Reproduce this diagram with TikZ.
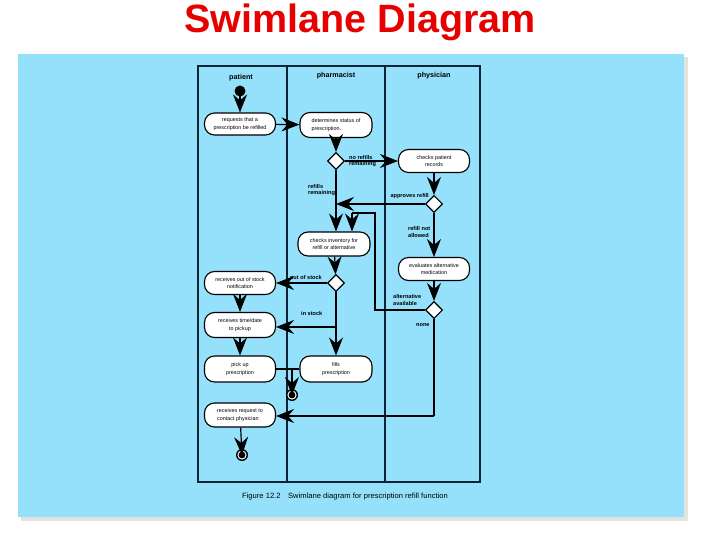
\documentclass[tikz,border=0pt]{standalone}
\usepackage{fontspec}
\setmainfont{Liberation Sans}
\usetikzlibrary{arrows.meta,shapes.geometric,positioning}
\definecolor{bgblue}{RGB}{149,225,251}
\definecolor{shadowgray}{RGB}{228,228,222}
\definecolor{framec}{RGB}{15,35,55}
\definecolor{titlered}{RGB}{230,0,0}
\tikzset{
  act/.style={draw=black, line width=1.1pt, fill=white, rounded corners=10pt,
    minimum width=71pt, minimum height=24pt, inner sep=1pt, align=center,
    font=\fontsize{5.4}{7.7}\selectfont},
  dec/.style={draw=black, line width=1.1pt, fill=white, diamond, minimum size=17pt, inner sep=0pt},
  lbl/.style={font=\bfseries\fontsize{5.6}{6.8}\selectfont, align=left, inner sep=0pt},
  hdr/.style={font=\bfseries\fontsize{7.2}{8}\selectfont, inner sep=0pt},
  flow/.style={line width=1.2pt, -{Stealth[length=18pt,width=14pt,inset=6pt]}},
  plain/.style={line width=1.2pt},
  lane/.style={draw=framec, line width=1.4pt}
}
\begin{document}
\begin{tikzpicture}[x=1pt,y=-1pt]
\useasboundingbox (0,0) rectangle (720,540);
% background
\fill[shadowgray] (21,57) rectangle (688,521);
\fill[bgblue] (18,54) rectangle (684,517);
% title
\node[font=\bfseries\fontsize{39.5}{44}\selectfont, text=titlered] (title) at (360,22) {Swimlane Diagram};
% frame and lanes
\draw[lane] (198,66) rectangle (480,482);
\draw[lane] (287,66) -- (287,482);
\draw[lane] (385,66) -- (385,482);
\node[hdr] (hp) at (241,78) {patient};
\node[hdr] (hph) at (336,76) {pharmacist};
\node[hdr] (hy) at (434,76) {physician};
% start
\fill[black] (240,91) circle (5.5pt);
\coordinate (start) at (240,91);
% activities
\node[act, minimum height=22pt] (req) at (240,124) {requests that a\\ prescription be refilled};
\node[act, minimum width=72pt, minimum height=25pt, align=left] (det) at (336,125) {determines status of\\ prescription.};
\node[dec] (d1) at (336,161) {};
\node[act, minimum height=23pt] (cpr) at (434,161) {checks patient\\ records};
\node[dec] (d2) at (434,204) {};
\node[act, minimum width=72pt] (ci) at (334,244) {checks inventory for\\ refill or alternative};
\node[act, minimum height=23pt] (eam) at (434,269) {evaluates alternative\\ medication};
\node[dec] (d4) at (336,283) {};
\node[dec] (d3) at (434,310) {};
\node[act, minimum height=23pt] (ros) at (240,283) {receives out of stock\\ notification};
\node[act, minimum height=25pt] (rtd) at (240,325) {receives time/date\\ to pickup};
\node[act, minimum height=26pt] (pup) at (240,369) {pick up\\ prescription};
\node[act, minimum width=72pt, minimum height=26pt] (fp) at (336,369) {fills\\ prescription};
\node[act, align=left] (rrc) at (240,415) {receives request to\\ contact physician};
% end nodes
\coordinate (end1) at (292,395);
\coordinate (end2) at (242,455);
\foreach \p in {end1,end2}{
  \fill[black] (\p) circle (6pt);
  \fill[white] (\p) circle (4.6pt);
  \fill[black] (\p) circle (3.4pt);
}
% helper coordinates
\coordinate (m1) at (336,204);
\coordinate (c1) at (375,310);
\coordinate (c2) at (375,213);
\coordinate (c3) at (352,213);
\coordinate (c4) at (434,416);
\coordinate (m2) at (336,327);
\coordinate (j) at (292,369);
% connectors
\draw[flow] (start) -- (req.north);
\draw[flow] (req) -- (det);
\draw[flow] (det) -- (d1);
\draw[flow] (d1) -- (cpr);
\draw[flow] (d1) -- (ci.north -| d1);
\draw[flow] (cpr) -- (d2);
\draw[flow] (d2) -- (m1);
\draw[flow] (d2) -- (eam);
\draw[flow] (eam) -- (d3);
\draw[plain] (d3) -- (c1) -- (c2) -- (c3);
\draw[flow] (c3) -- (c3 |- ci.north);
\draw[plain] (d3) -- (c4);
\draw[flow] (c4) -- (rrc.east |- c4);
\draw[flow] (ci) -- (d4);
\draw[flow] (d4) -- (ros);
\draw[flow] (d4) -- (fp);
\draw[flow] (m2) -- (rtd.east |- m2);
\draw[flow] (ros) -- (rtd);
\draw[flow] (rtd) -- (pup);
\draw[plain] (pup) -- (j);
\draw[plain] (fp) -- (j);
\draw[flow] (j) -- (end1);
\draw[flow] (rrc) -- (end2);
% labels
\node[lbl, anchor=west] (l1) at (349,161) {no refills\\ remaining};
\node[lbl, anchor=west] (l2) at (308,190) {refills\\ remaining};
\node[lbl, anchor=east] (l3) at (429,196) {approves refill};
\node[lbl, anchor=west] (l4) at (408,232) {refill not\\ allowed};
\node[lbl, anchor=west] (l5) at (393,300) {alternative\\ available};
\node[lbl, anchor=west] (l6) at (416,325) {none};
\node[lbl, anchor=east] (l7) at (322,277) {out of stock};
\node[lbl, anchor=west] (l8) at (301,313) {in stock};
% caption
\node[font=\fontsize{7.6}{9}\selectfont] (cap) at (345,497) {Figure 12.2\quad Swimlane diagram for prescription refill function};
\end{tikzpicture}
\end{document}
